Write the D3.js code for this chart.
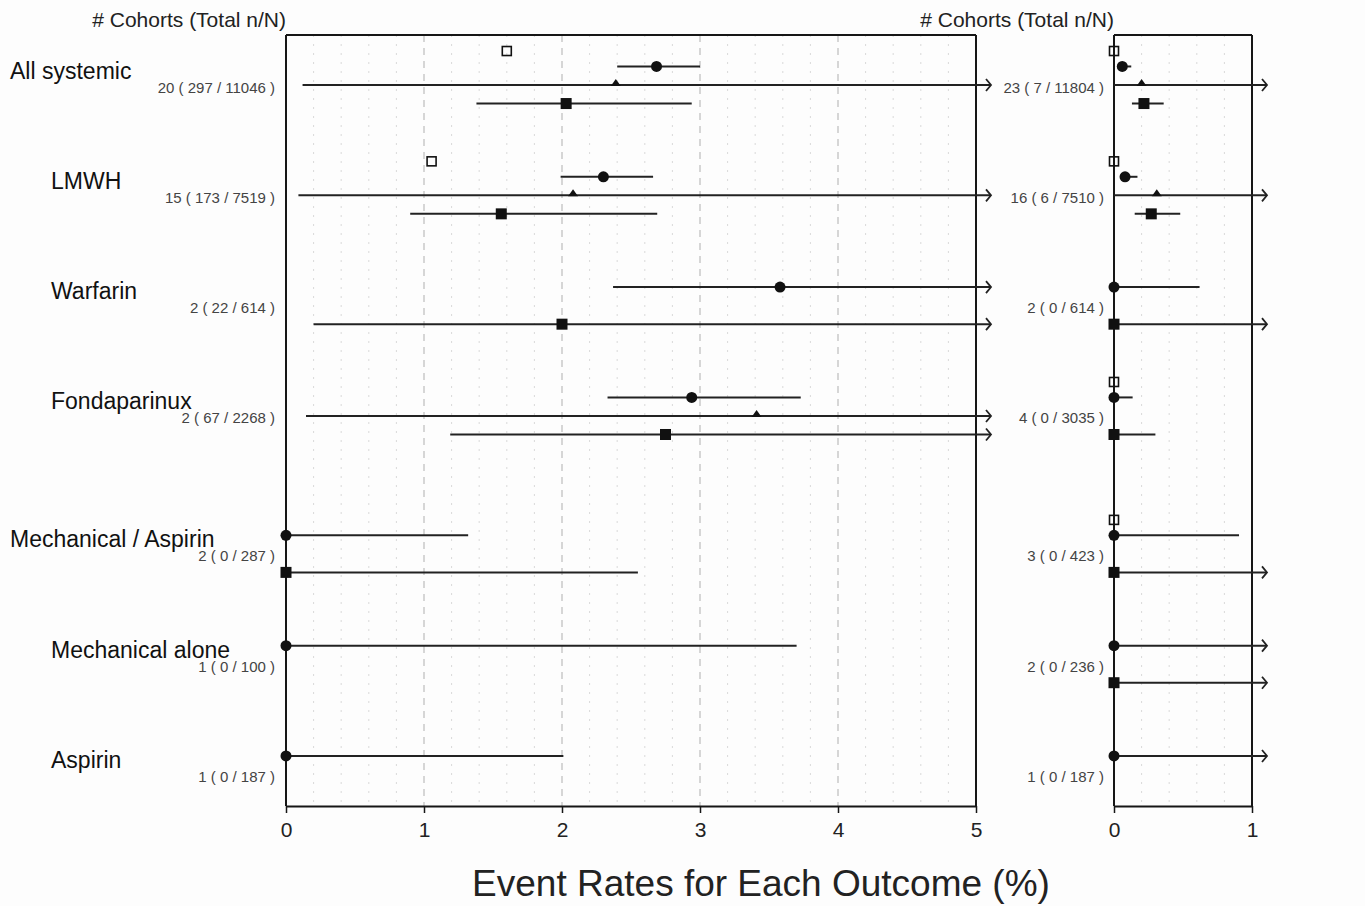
<!DOCTYPE html>
<html>
<head>
<meta charset="utf-8">
<script src="https://cdn.jsdelivr.net/npm/d3@7"></script>
<style>
  html, body { margin: 0; padding: 0; background: #fdfdfd; }
  text { font-family: "Liberation Sans", Arial, sans-serif; }
</style>
</head>
<body>
<svg id="chart" width="1365" height="906"></svg>
<script>
// ---------------- DATA ----------------
const groups = ["All systemic", "LMWH", "Warfarin", "Fondaparinux", "Mechanical / Aspirin", "Mechanical alone", "Aspirin"];
const countsLeft  = ["20 ( 297 / 11046 )", "15 ( 173 / 7519 )", "2 ( 22 / 614 )", "2 ( 67 / 2268 )", "2 ( 0 / 287 )", "1 ( 0 / 100 )", "1 ( 0 / 187 )"];
const countsRight = ["23 ( 7 / 11804 )", "16 ( 6 / 7510 )", "2 ( 0 / 614 )", "4 ( 0 / 3035 )", "3 ( 0 / 423 )", "2 ( 0 / 236 )", "1 ( 0 / 187 )"];
const headerLabel = "# Cohorts (Total n/N)";
const axisTitle = "Event Rates for Each Outcome (%)";
const leftTicks = [0, 1, 2, 3, 4, 5];
const rightTicks = [0, 1];
const OFF = Infinity; // upper limit beyond the axis (drawn as arrow)

// Left panel (event rates, %)
const leftOpenSq    = [1.60, 1.055, null, null, null, null, null];
const leftCircleEst = [2.685, 2.30, 3.58, 2.94, 0, 0, 0];
const leftCircleLo  = [2.40, 1.99, 2.37, 2.33, 0, 0, 0];
const leftCircleHi  = [3.00, 2.66, OFF, 3.73, 1.32, 3.70, 2.01];
const leftTriEst    = [2.39, 2.08, null, 3.41, null, null, null];
const leftTriLo     = [0.12, 0.09, null, 0.145, null, null, null];
const leftTriHi     = [OFF, OFF, null, OFF, null, null, null];
const leftSqEst     = [2.03, 1.56, 2.00, 2.75, 0, null, null];
const leftSqLo      = [1.38, 0.90, 0.20, 1.19, 0, null, null];
const leftSqHi      = [2.94, 2.69, OFF, OFF, 2.55, null, null];

// Right panel (event rates, %)
const rightOpenSq    = [0, 0, null, 0, 0, null, null];
const rightCircleEst = [0.06, 0.08, 0, 0, 0, 0, 0];
const rightCircleLo  = [0.03, 0.05, 0, 0, 0, 0, 0];
const rightCircleHi  = [0.125, 0.17, 0.62, 0.135, 0.906, OFF, OFF];
const rightTriEst    = [0.20, 0.31, null, null, null, null, null];
const rightTriLo     = [0, 0, null, null, null, null, null];
const rightTriHi     = [OFF, OFF, null, null, null, null, null];
const rightSqEst     = [0.217, 0.27, 0, 0, 0, 0, null];
const rightSqLo      = [0.13, 0.15, 0, 0, 0, 0, null];
const rightSqHi      = [0.36, 0.48, OFF, 0.30, OFF, OFF, null];

// ---------------- LAYOUT ----------------
const svg = d3.select("#chart");
svg.append("rect").attr("width", 1365).attr("height", 906).attr("fill", "#fdfdfd");

const plotTop = 35, plotBottom = 806;
const xL = d3.scaleLinear().domain([0, 5]).range([286, 976]);
const xR = d3.scaleLinear().domain([0, 1]).range([1114, 1252]);
const groupPos = groups.map((g, i) => i + (i >= 4 ? 0.25 : 0));
const y = d3.scaleLinear().domain([0, 6.25]).range([85, 774.5]);
const rowOff = { open: -0.308, circle: -0.168, tri: 0, sq: 0.168 };
const ink = "#161616";

function buildSeries(est, lo, hi, kind) {
  return est.map((v, i) => v == null ? null : { i, est: v, lo: lo ? lo[i] : null, hi: hi ? hi[i] : null, kind })
            .filter(d => d);
}

const panels = [
  { x: xL, ticks: leftTicks, counts: countsLeft, countX: -11,
    series: [
      buildSeries(leftOpenSq, null, null, "open"),
      buildSeries(leftCircleEst, leftCircleLo, leftCircleHi, "circle"),
      buildSeries(leftTriEst, leftTriLo, leftTriHi, "tri"),
      buildSeries(leftSqEst, leftSqLo, leftSqHi, "sq")
    ] },
  { x: xR, ticks: rightTicks, counts: countsRight, countX: -10,
    series: [
      buildSeries(rightOpenSq, null, null, "open"),
      buildSeries(rightCircleEst, rightCircleLo, rightCircleHi, "circle"),
      buildSeries(rightTriEst, rightTriLo, rightTriHi, "tri"),
      buildSeries(rightSqEst, rightSqLo, rightSqHi, "sq")
    ] }
];

panels.forEach(p => {
  const x = p.x;
  const [d0, d1] = x.domain();
  const g = svg.append("g");

  // grid: dotted minor every 0.2, dashed at integers
  const minor = d3.range(d0, d1 + 1e-9, 0.2).map(v => +v.toFixed(2)).filter(v => Math.abs(v - Math.round(v)) > 1e-6);
  g.selectAll(".minor").data(minor).join("line")
    .attr("x1", d => x(d)).attr("x2", d => x(d))
    .attr("y1", plotTop).attr("y2", plotBottom)
    .attr("stroke", "#d9d9d9").attr("stroke-width", 1).attr("stroke-dasharray", "2,7");
  const major = p.ticks.filter(v => v > d0 && v < d1);
  g.selectAll(".major").data(major).join("line")
    .attr("x1", d => x(d)).attr("x2", d => x(d))
    .attr("y1", plotTop).attr("y2", plotBottom)
    .attr("stroke", "#bdbdbd").attr("stroke-width", 1.2).attr("stroke-dasharray", "7,6");

  // frame
  g.append("line").attr("x1", x(d0)).attr("x2", x(d1)).attr("y1", plotTop).attr("y2", plotTop)
    .attr("stroke", ink).attr("stroke-width", 2);
  g.append("line").attr("x1", x(d1)).attr("x2", x(d1)).attr("y1", plotTop).attr("y2", plotBottom)
    .attr("stroke", ink).attr("stroke-width", 2);
  g.append("line").attr("x1", x(d0)).attr("x2", x(d0)).attr("y1", plotTop).attr("y2", plotBottom)
    .attr("stroke", ink).attr("stroke-width", 2);

  // x axis
  const ax = g.append("g").attr("transform", `translate(0,${plotBottom})`)
    .call(d3.axisBottom(x).tickValues(p.ticks).tickFormat(d3.format("d")).tickSize(7).tickSizeOuter(0).tickPadding(9));
  ax.select(".domain").attr("stroke", ink).attr("stroke-width", 2);
  ax.selectAll(".tick line").attr("stroke", ink).attr("stroke-width", 1.5);
  ax.selectAll(".tick text").attr("font-size", 21).attr("fill", "#222")
    .attr("font-family", "'Liberation Sans', Arial, sans-serif");

  // header
  g.append("text").attr("x", x(d0)).attr("y", 27).attr("text-anchor", "end")
    .attr("font-size", 21).attr("fill", "#222").text(headerLabel);

  // count labels
  g.selectAll(".cnt").data(p.counts).join("text")
    .attr("x", x(d0) + p.countX).attr("y", (d, i) => y(groupPos[i]) + 7.5)
    .attr("text-anchor", "end").attr("font-size", 15).attr("fill", "#444").text(d => d);

  // CI lines + arrows
  const all = p.series.flat();
  const rowY = d => y(groupPos[d.i] + rowOff[d.kind]);
  const arrowX = x(d1) + 15;
  const withCI = all.filter(d => d.lo != null);
  g.selectAll(".ci").data(withCI).join("line")
    .attr("x1", d => x(d.lo))
    .attr("x2", d => d.hi === OFF ? arrowX : x(d.hi))
    .attr("y1", rowY).attr("y2", rowY)
    .attr("stroke", "#222").attr("stroke-width", 2);
  g.selectAll(".arr").data(withCI.filter(d => d.hi === OFF)).join("path")
    .attr("d", d => { const yy = rowY(d); return `M${arrowX - 5},${yy - 6}L${arrowX},${yy}L${arrowX - 5},${yy + 6}`; })
    .attr("fill", "none").attr("stroke", "#222").attr("stroke-width", 1.8);

  // markers
  all.forEach(d => {
    const cx = x(d.est), cy = rowY(d);
    if (d.kind === "circle") {
      g.append("circle").attr("cx", cx).attr("cy", cy).attr("r", 5.5).attr("fill", "#111");
    } else if (d.kind === "sq") {
      g.append("rect").attr("x", cx - 5.5).attr("y", cy - 5.5).attr("width", 11).attr("height", 11).attr("fill", "#111");
    } else if (d.kind === "open") {
      g.append("rect").attr("x", cx - 4.5).attr("y", cy - 4.5).attr("width", 9).attr("height", 9)
        .attr("fill", "none").attr("stroke", "#111").attr("stroke-width", 1.6);
    } else if (d.kind === "tri") {
      g.append("path").attr("d", `M${cx - 5},${cy + 1}L${cx + 5},${cy + 1}L${cx},${cy - 6}Z`).attr("fill", "#111");
    }
  });
});

// group labels
svg.selectAll(".grp").data(groups).join("text")
  .attr("x", (d, i) => (i === 0 || i === 4) ? 10 : 51)
  .attr("y", (d, i) => y(groupPos[i]) - 6.5)
  .attr("font-size", 23).attr("fill", "#111").text(d => d);

// axis title
svg.append("text").attr("x", 761).attr("y", 896).attr("text-anchor", "middle")
  .attr("font-size", 37).attr("fill", "#222").text(axisTitle);
</script>
</body>
</html>
